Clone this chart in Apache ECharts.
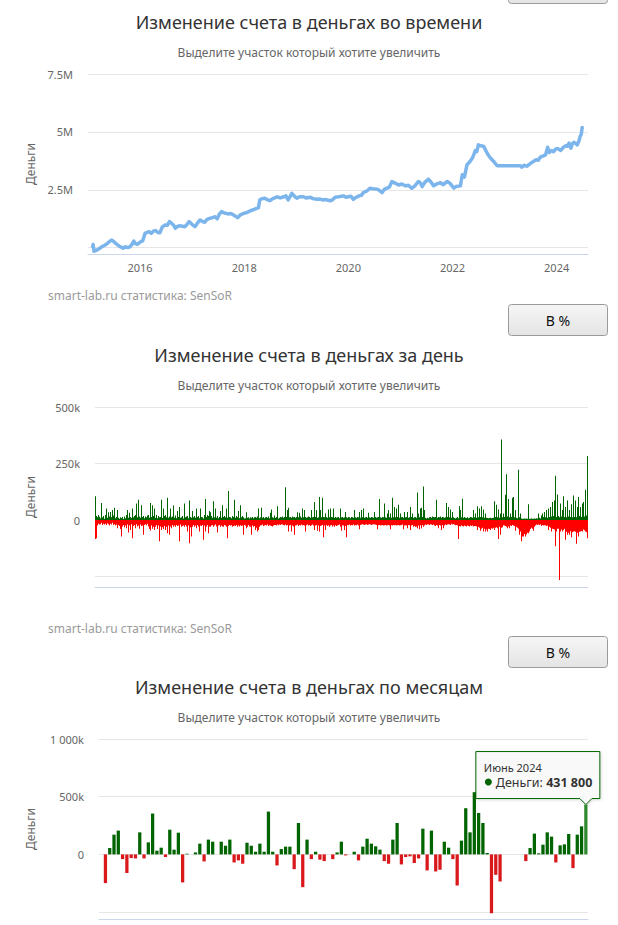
<!DOCTYPE html>
<html>
<head>
<meta charset="utf-8">
<script src="https://cdn.jsdelivr.net/npm/echarts@6/dist/echarts.min.js"></script>
<style>
html, body { margin: 0; padding: 0; background: #ffffff; }
#c { width: 618px; height: 925px; }
</style>
</head>
<body>
<div id="c"></div>
<script>
// ---------------- DATA ----------------
const chartTitles = [
  'Изменение счета в деньгах во времени',
  'Изменение счета в деньгах за день',
  'Изменение счета в деньгах по месяцам'
];
const subtitleText = 'Выделите участок который хотите увеличить';
const creditsText = 'smart-lab.ru статистика: SenSoR';
const buttonText = 'В %';
const axisNameText = 'Деньги';

// Chart 1: account balance over time (millions)
const balanceDates = [
  '2015-02-03','2015-02-06','2015-02-12','2015-02-25','2015-03-10','2015-03-25','2015-04-10','2015-04-25',
  '2015-05-12','2015-05-28','2015-06-15','2015-06-28','2015-07-12','2015-07-28','2015-08-10','2015-08-25',
  '2015-09-05','2015-09-20','2015-10-05','2015-10-20','2015-11-05','2015-11-18','2015-11-28','2015-12-15',
  '2016-01-05','2016-01-20','2016-02-05','2016-02-20','2016-03-05','2016-03-20','2016-04-05','2016-04-20',
  '2016-05-05','2016-05-20','2016-06-05','2016-06-25','2016-07-10','2016-07-25','2016-08-10','2016-08-25',
  '2016-09-05','2016-09-20','2016-10-05','2016-10-25','2016-11-10','2016-11-25','2016-12-10','2016-12-28',
  '2017-01-20','2017-02-05','2017-02-25','2017-03-12','2017-03-30','2017-04-15','2017-05-05','2017-05-25',
  '2017-06-10','2017-06-25','2017-07-10','2017-07-26','2017-08-15','2017-09-10','2017-09-28','2017-10-20',
  '2017-11-15','2017-12-05','2018-01-01','2018-01-20','2018-02-15','2018-03-05','2018-03-28','2018-04-10',
  '2018-04-20','2018-05-05','2018-05-25','2018-06-10','2018-07-01','2018-07-20','2018-08-20','2018-09-10',
  '2018-10-05','2018-10-20','2018-11-05','2018-12-01','2018-12-20','2019-01-05','2019-01-25','2019-02-20',
  '2019-03-10','2019-04-10','2019-04-28','2019-05-25','2019-06-15','2019-07-10','2019-07-28','2019-08-25',
  '2019-09-10','2019-10-01','2019-10-25','2019-11-30','2019-12-15','2020-01-01','2020-01-20','2020-02-05',
  '2020-02-20','2020-03-15','2020-04-01','2020-04-15','2020-05-10','2020-06-01','2020-06-20','2020-07-20',
  '2020-08-05','2020-08-25','2020-09-10','2020-09-28','2020-10-15','2020-11-02','2020-11-20','2020-12-20',
  '2021-01-10','2021-02-05','2021-02-25','2021-03-20','2021-04-10','2021-05-07','2021-05-20','2021-06-02',
  '2021-06-20','2021-07-15','2021-08-01','2021-08-22','2021-09-10','2021-10-08','2021-10-25','2021-11-25',
  '2021-12-15','2022-01-10','2022-01-25','2022-02-25','2022-03-10','2022-03-25','2022-04-12','2022-04-28',
  '2022-05-20','2022-06-01','2022-06-10','2022-06-20','2022-07-01','2022-07-20','2022-08-08','2022-09-01',
  '2022-09-20','2022-10-05','2022-10-20','2022-11-10','2023-04-22','2023-05-02','2023-05-20','2023-06-05',
  '2023-06-20','2023-07-05','2023-07-22','2023-08-10','2023-08-25','2023-09-08','2023-09-25','2023-10-15',
  '2023-10-30','2023-11-10','2023-11-25','2023-12-10','2023-12-25','2024-01-10','2024-01-30','2024-02-15',
  '2024-03-03','2024-03-15','2024-03-28','2024-04-10','2024-04-20','2024-04-30','2024-05-15','2024-05-25',
  '2024-06-05','2024-06-15','2024-06-22','2024-06-28'
];
const balanceM = [
  0.05,0.14,-0.15,-0.12,-0.08,-0.02,0.05,0.10,
  0.16,0.25,0.33,0.28,0.20,0.12,0.06,0.02,
  -0.02,0.04,0.01,0.03,0.14,0.29,0.18,0.15,
  0.26,0.30,0.62,0.66,0.69,0.62,0.72,0.74,
  0.66,0.65,0.90,0.98,0.97,1.13,1.05,0.96,
  0.84,0.92,0.95,0.93,0.91,1.00,1.13,1.02,
  0.91,1.05,1.20,1.14,1.10,1.22,1.27,1.30,
  1.34,1.25,1.45,1.56,1.50,1.46,1.48,1.41,
  1.30,1.42,1.49,1.52,1.60,1.64,1.70,1.72,
  2.06,2.12,2.14,2.08,2.03,2.12,2.20,2.15,
  2.20,2.24,2.06,2.35,2.22,2.14,2.20,2.20,
  2.15,2.18,2.12,2.09,2.10,2.06,2.08,2.03,
  2.06,2.18,2.20,2.24,2.18,2.20,2.22,2.09,
  2.16,2.24,2.26,2.38,2.45,2.57,2.55,2.53,
  2.48,2.38,2.52,2.57,2.62,2.86,2.80,2.71,
  2.75,2.67,2.70,2.57,2.66,2.86,2.80,2.64,
  2.82,2.96,2.85,2.67,2.75,2.81,2.72,2.86,
  2.78,2.57,2.64,2.67,3.15,3.05,3.58,3.68,
  3.87,4.05,4.20,4.15,4.44,4.40,4.37,4.08,
  3.90,3.80,3.70,3.54,3.54,3.48,3.56,3.52,
  3.58,3.66,3.72,3.80,3.78,3.91,3.95,4.01,
  4.34,4.11,4.20,4.15,4.26,4.28,4.20,4.32,
  4.40,4.38,4.52,4.30,4.48,4.55,4.50,4.44,
  4.60,4.83,4.90,5.19
];
const balanceAxisStart = '2015-01-01';
const balanceAxisEnd = '2024-08-08';
const balanceTickYears = [2016, 2018, 2020, 2022, 2024];
const balanceTickM = [0, 2.5, 5, 7.5];

// Chart 2: daily change (thousands), one column per screen column of the original
const dayGainsK = [
  105,18,12,22,15,8,76,12,18,6, 22,51,10,35,16,36,12,44,20,54, 8,14,44,10,6,12,9,14,5,16,
  8,22,44,10,32,14,9,51,12,18, 22,73,12,90,16,10,65,14,18,8, 16,12,20,22,10,76,14,65,18,51,
  10,22,8,18,12,14,90,9,51,18, 22,12,99,10,16,51,12,16,64,10, 20,8,40,14,58,10,12,18,7,73,
  12,16,18,8,87,14,10,40,12,18, 10,51,14,18,8,51,14,12,7,22, 93,14,22,18,40,35,18,10,83,12,
  51,10,18,8,14,40,10,65,14,18, 12,51,10,128,14,12,8,18,14,90, 10,18,12,40,8,65,12,18,12,7,
  8,35,10,12,7,12,10,14,8,12, 14,10,16,51,8,12,54,10,14,8, 12,14,10,16,8,32,47,12,10,20,
  10,14,61,7,10,14,12,16,10,14, 145,14,44,55,12,14,10,16,12,14, 10,14,35,12,32,16,10,51,12,44,
  14,10,12,16,14,10,44,12,14,80, 14,44,10,12,102,44,12,99,14,12, 29,14,10,47,12,51,14,12,51,10,
  14,10,12,14,8,51,12,14,10,12, 36,12,10,14,12,8,14,12,10,44, 12,10,14,12,36,10,44,12,51,10,
  12,14,10,32,12,10,14,12,10,36, 14,10,12,14,93,12,10,14,12,73, 12,10,29,44,12,29,10,99,12,58,
  12,51,14,68,10,29,12,14,10,36, 12,14,36,10,12,58,14,29,10,12, 14,10,122,29,12,51,55,14,148,44,
  10,7,10,8,12,14,10,16,14,12, 14,90,10,14,12,16,10,14,12,10, 12,76,14,58,12,47,10,36,12,9,
  7,10,14,8,61,44,12,94,10,14, 10,9,12,8,10,14,12,10,44,12, 29,10,61,12,51,14,61,12,47,10,
  29,10,9,8,9,10,8,9,10,83, 14,68,12,47,10,29,356,12,29,14, 112,203,16,93,12,29,14,99,102,12,
  44,10,8,222,12,29,7,6,6,7, 6,7,6,70,6,6,7,6,6,7, 6,8,7,29,10,7,20,29,14,36,
  12,44,10,51,14,58,16,80,18,87, 196,14,113,18,12,73,16,44,105,14, 58,12,87,16,44,14,70,12,109,14,
  87,12,58,102,18,58,14,73,80,16, 134,20,283
];
const dayLossesK = [
  -84,-80,-24,-16,-20,-18,-12,-22,-16,-20, -16,-22,-14,-18,-24,-16,-20,-12,-22,-18, -24,-20,-36,-22,-26,-40,-73,-28,-22,-32,
  -24,-36,-20,-55,-24,-44,-18,-80,-26,-22, -36,-18,-28,-24,-38,-20,-26,-24,-65,-22, -18,-23,-16,-28,-40,-46,-24,-38,-30,-44,
  -30,-22,-40,-24,-94,-28,-44,-32,-40,-26, -44,-30,-58,-24,-65,-28,-36,-22,-30,-24, -30,-22,-26,-24,-94,-20,-30,-26,-24,-30,
  -22,-28,-51,-24,-102,-32,-73,-30,-22,-30, -24,-36,-22,-28,-51,-24,-26,-22,-87,-24, -51,-30,-22,-58,-28,-30,-24,-22,-30,-24,
  -20,-28,-55,-24,-22,-30,-24,-28,-30,-22, -24,-30,-80,-26,-22,-24,-23,-30,-26,-24, -26,-22,-30,-24,-28,-23,-26,-24,-65,-22,
  -24,-36,-30,-22,-28,-30,-65,-24,-30,-26, -44,-34,-51,-44,-30,-24,-23,-20,-26,-24, -22,-24,-20,-26,-23,-24,-26,-28,-24,-22,
  -22,-24,-20,-23,-20,-22,-18,-20,-22,-24, -20,-24,-22,-51,-24,-22,-51,-24,-28,-65, -24,-23,-20,-26,-22,-24,-20,-23,-22,-24,
  -51,-23,-20,-24,-22,-26,-23,-20,-24,-44, -24,-22,-47,-24,-51,-26,-24,-22,-76,-24, -44,-22,-26,-23,-30,-24,-22,-28,-24,-30,
  -23,-26,-24,-22,-20,-30,-47,-23,-24,-44, -26,-76,-22,-23,-20,-24,-22,-23,-20,-24, -22,-23,-20,-24,-41,-22,-20,-18,-20,-22,
  -20,-18,-22,-20,-18,-20,-22,-20,-18,-20, -20,-22,-41,-23,-22,-24,-23,-22,-24,-23, -22,-24,-23,-22,-24,-41,-23,-24,-22,-23,
  -22,-24,-23,-22,-24,-23,-22,-20,-41,-24, -23,-24,-36,-22,-23,-44,-24,-22,-30,-26, -30,-28,-36,-24,-41,-23,-36,-22,-30,-24,
  -20,-22,-18,-20,-22,-18,-20,-22,-20,-24, -26,-22,-24,-36,-22,-24,-44,-22,-36,-24, -20,-22,-20,-18,-20,-22,-16,-20,-18,-20,
  -23,-22,-24,-84,-26,-28,-24,-26,-28,-24, -26,-28,-24,-26,-28,-24,-26,-24,-28,-26, -26,-28,-44,-30,-34,-47,-38,-34,-51,-38,
  -51,-42,-51,-38,-40,-44,-36,-38,-34,-44, -34,-32,-36,-84,-30,-65,-34,-32,-23,-24, -26,-30,-36,-28,-36,-24,-26,-22,-24,-26,
  -47,-30,-34,-38,-65,-51,-94,-73,-73,-62, -73,-64,-56,-58,-51,-40,-34,-38,-47,-30, -24,-20,-22,-20,-22,-18,-26,-22,-24,-23,
  -23,-26,-24,-44,-30,-34,-51,-38,-40,-42, -116,-51,-38,-38,-265,-51,-42,-51,-44,-38, -87,-52,-65,-56,-65,-50,-76,-54,-51,-50,
  -52,-105,-56,-73,-52,-51,-48,-51,-42,-45, -51,-54,-80
];
const dayTickK = [-250, 0, 250, 500];
const dayLabelK = [0, 250, 500];

// Chart 3: monthly change (rubles), Jan 2015 .. Jun 2024
const monthNames = ['Январь','Февраль','Март','Апрель','Май','Июнь','Июль','Август','Сентябрь','Октябрь','Ноябрь','Декабрь'];
const monthStartYear = 2015;
const monthValues = [
  0,-249000,55000,171000,206000,-41000,-162000,-32000,-35000,191000,-35000,104000,
  354000,32000,58000,-23000,214000,41000,188000,-243000,6000,0,17000,93000,
  -61000,128000,110000,0,110000,75000,128000,-70000,-52000,-81000,101000,75000,
  23000,93000,23000,371000,23000,-96000,46000,67000,67000,-128000,272000,-284000,
  128000,-41000,23000,-46000,-58000,0,-41000,17000,110000,-9000,0,23000,
  -52000,67000,136000,93000,70000,41000,-58000,-81000,128000,272000,-87000,-23000,
  -17000,-75000,-35000,223000,-139000,206000,-148000,-133000,110000,58000,-41000,-270000,
  119000,400000,191000,539000,359000,272000,12000,-510000,-177000,-235000,0,0,
  0,0,0,-58000,55000,180000,9000,84000,191000,154000,-70000,78000,
  87000,177000,-119000,171000,243000,431800
];
const monthTicks = [-500000, 0, 500000, 1000000];
const monthLabels = [0, 500000, 1000000];
const highlightedMonth = monthValues.length - 1;

// ---------------- STYLE / BUILD ----------------
const FONT = '"Noto Sans", "DejaVu Sans", sans-serif';
const GREY = '#666666';
const GRID_LINE = '#e6e6e6';
const AXIS_LINE = '#ccd6eb';
const GREEN = '#006400';
const RED_DAY = '#ff0000';
const RED_MONTH = '#d9181c';

function spaced(n) {
  return String(n).replace(/\B(?=(\d{3})+(?!\d))/g, ' ');
}
const ts = (s) => new Date(s + 'T00:00:00Z').getTime();

const monthCategories = monthValues.map((_, i) =>
  monthNames[i % 12] + ' ' + (monthStartYear + Math.floor(i / 12)));
const dayColumns = dayGainsK.map((_, i) => String(i));
const balanceData = balanceDates.map((d, i) => [ts(d), balanceM[i]]);
const yearTickValues = balanceTickYears.map(y => Date.UTC(y, 0, 1));

const monthData = monthValues.map((v, i) => ({
  value: v,
  itemStyle: { color: i === highlightedMonth ? '#2f8a2f' : (v >= 0 ? GREEN : RED_MONTH) }
}));

function titleBlock(text, centerY, size, color, lh) {
  return {
    text: text, left: 'center', top: centerY - lh / 2, padding: 0,
    textStyle: { fontFamily: FONT, fontSize: size, fontWeight: 'normal', color: color, lineHeight: lh }
  };
}

const yName = (gap) => ({
  name: axisNameText, nameLocation: 'middle', nameGap: gap,
  nameTextStyle: { color: GREY, fontSize: 12, fontFamily: FONT }
});

const chart = echarts.init(document.getElementById('c'), null, { renderer: 'svg', width: 618, height: 925 });

const option = {
  animation: false,
  backgroundColor: '#ffffff',
  textStyle: { fontFamily: FONT },
  title: [
    titleBlock(chartTitles[0], 22, 18, '#333333', 22),
    titleBlock(subtitleText, 52, 12, GREY, 14),
    titleBlock(chartTitles[1], 355, 18, '#333333', 22),
    titleBlock(subtitleText, 385, 12, GREY, 14),
    titleBlock(chartTitles[2], 687, 18, '#333333', 22),
    titleBlock(subtitleText, 717, 12, GREY, 14)
  ],
  grid: [
    { left: 88, top: 74, width: 500, height: 180 },
    { left: 95, top: 407, width: 493, height: 180 },
    { left: 99, top: 739, width: 489, height: 180 }
  ],
  xAxis: [
    {
      type: 'value', gridIndex: 0, min: ts(balanceAxisStart), max: ts(balanceAxisEnd),
      axisLine: { show: true, onZero: false, lineStyle: { color: AXIS_LINE } },
      axisTick: { show: false, customValues: yearTickValues },
      splitLine: { show: false },
      axisLabel: {
        customValues: yearTickValues, color: GREY, fontSize: 11, margin: 8, fontFamily: FONT,
        formatter: (v) => String(new Date(v).getUTCFullYear())
      }
    },
    {
      type: 'category', gridIndex: 1, data: dayColumns,
      axisLine: { show: true, onZero: false, lineStyle: { color: AXIS_LINE } },
      axisTick: { show: false }, axisLabel: { show: false }, splitLine: { show: false }
    },
    {
      type: 'category', gridIndex: 2, data: monthCategories,
      axisLine: { show: true, onZero: false, lineStyle: { color: AXIS_LINE } },
      axisTick: { show: false }, axisLabel: { show: false }, splitLine: { show: false }
    }
  ],
  yAxis: [
    Object.assign({
      type: 'value', gridIndex: 0, min: -0.27, max: 7.5,
      axisLine: { show: false },
      axisTick: { show: false, customValues: balanceTickM },
      splitLine: { show: true, lineStyle: { color: GRID_LINE } },
      axisLabel: {
        customValues: balanceTickM.slice(1), color: GREY, fontSize: 11, margin: 15, fontFamily: FONT,
        formatter: (v) => v + 'M'
      }
    }, yName(52)),
    Object.assign({
      type: 'value', gridIndex: 1, min: -296, max: 500,
      axisLine: { show: false },
      axisTick: { show: false, customValues: dayTickK },
      splitLine: { show: true, lineStyle: { color: GRID_LINE } },
      axisLabel: {
        customValues: dayLabelK, color: GREY, fontSize: 11, margin: 15, fontFamily: FONT,
        formatter: (v) => v === 0 ? '0' : v + 'k'
      }
    }, yName(59)),
    Object.assign({
      type: 'value', gridIndex: 2, min: -560000, max: 1000000,
      axisLine: { show: false },
      axisTick: { show: false, customValues: monthTicks },
      splitLine: { show: true, lineStyle: { color: GRID_LINE } },
      axisLabel: {
        customValues: monthLabels, color: GREY, fontSize: 11, margin: 15, fontFamily: FONT,
        formatter: (v) => v === 0 ? '0' : spaced(v / 1000) + 'k'
      }
    }, yName(63))
  ],
  series: [
    {
      type: 'line', xAxisIndex: 0, yAxisIndex: 0, data: balanceData,
      showSymbol: false, smooth: false,
      lineStyle: { color: '#7cb5ec', width: 3.5, join: 'round', cap: 'round' }, itemStyle: { color: '#7cb5ec' }
    },
    {
      type: 'bar', xAxisIndex: 1, yAxisIndex: 1, data: dayGainsK,
      barCategoryGap: '0%', barGap: '-100%',
      itemStyle: { color: GREEN }
    },
    {
      type: 'bar', xAxisIndex: 1, yAxisIndex: 1, data: dayLossesK,
      barCategoryGap: '0%', barGap: '-100%',
      itemStyle: { color: RED_DAY }
    },
    {
      type: 'bar', xAxisIndex: 2, yAxisIndex: 2, data: monthData,
      barCategoryGap: '24%'
    }
  ]
};

chart.setOption(option);

// ---------------- GRAPHIC OVERLAYS ----------------
function buttonRect() {
  return { type: 'rect', shape: { x: 0, y: 0, width: 99, height: 31, r: 3 },
    style: { fill: { type: 'linear', x: 0, y: 0, x2: 0, y2: 1,
      colorStops: [{ offset: 0, color: '#f6f6f6' }, { offset: 1, color: '#e4e4e4' }] },
      stroke: '#9a9a9a', lineWidth: 1 } };
}
function button(y, withText) {
  const children = [buttonRect()];
  if (withText) {
    children.push({ type: 'text', x: 49.5, y: 15.5,
      style: { text: buttonText, fontFamily: FONT, fontSize: 14, fill: '#111111', align: 'center', verticalAlign: 'middle' } });
  }
  return { type: 'group', x: 508.5, y: y, children: children };
}
function credits(y) {
  return { type: 'text', x: 48, y: y,
    style: { text: creditsText, fontFamily: FONT, fontSize: 12, fill: '#9a9a9a', align: 'left', verticalAlign: 'middle' } };
}

const tipPoint = chart.convertToPixel({ xAxisIndex: 2, yAxisIndex: 2 }, [highlightedMonth, monthValues[highlightedMonth]]);
const px = tipPoint[0], py = tipPoint[1];
const boxL = px - 110, boxR = px + 14, boxT = py - 53, boxB = py - 6;

chart.setOption({
  graphic: [
    button(-27.5, false),
    button(304.5, true),
    button(636.5, true),
    credits(295),
    credits(628),
    {
      type: 'group', z: 100,
      children: [
        { type: 'polygon',
          shape: { points: [[boxL, boxT], [boxR, boxT], [boxR, boxB], [px + 6, boxB], [px, py], [px - 6, boxB], [boxL, boxB]] },
          style: { fill: 'rgba(250,250,250,0.92)', stroke: GREEN, lineWidth: 1, shadowBlur: 3, shadowColor: 'rgba(0,0,0,0.15)', shadowOffsetX: 1, shadowOffsetY: 1 } },
        { type: 'text', x: boxL + 8, y: boxT + 16,
          style: { text: monthCategories[highlightedMonth], fontFamily: FONT, fontSize: 11, lineHeight: 11, fill: '#333333', align: 'left', verticalAlign: 'middle' } },
        { type: 'circle', shape: { cx: boxL + 12.5, cy: boxT + 30.5, r: 3.5 }, style: { fill: GREEN } },
        { type: 'text', x: boxL + 20, y: boxT + 30.5,
          style: {
            text: '{n|' + axisNameText + ': }{v|' + spaced(monthValues[highlightedMonth]) + '}',
            align: 'left', verticalAlign: 'middle', lineHeight: 13,
            rich: {
              n: { fill: '#333333', fontSize: 12.5, lineHeight: 13, fontFamily: FONT },
              v: { fill: '#333333', fontSize: 12.5, lineHeight: 13, fontFamily: FONT, fontWeight: 'bold' }
            }
          } }
      ]
    }
  ]
});
</script>
</body>
</html>
